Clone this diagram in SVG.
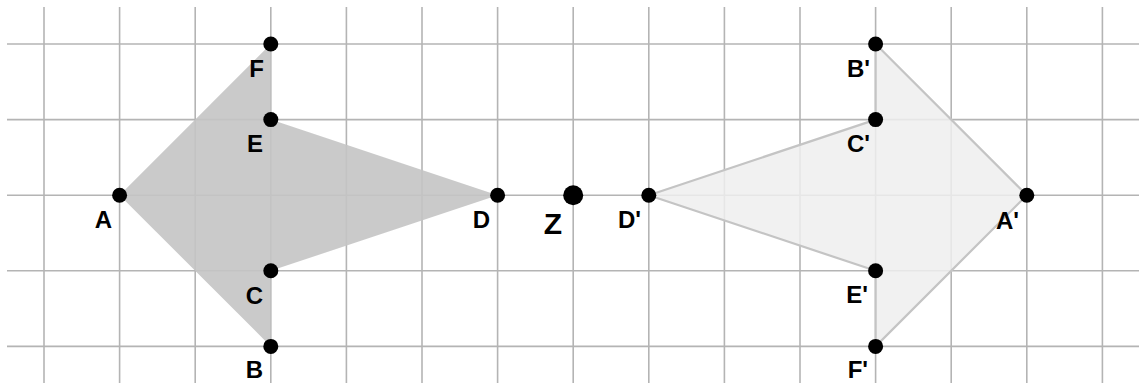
<svg xmlns="http://www.w3.org/2000/svg" width="1141" height="383" viewBox="0 0 1141 383">
<style>
.grid line{stroke:#b4b4b4;stroke-width:1.6}
.lbl{font-family:"Liberation Sans",Arial,sans-serif;font-weight:bold;font-size:24px;fill:#000;text-anchor:end}
.pt{fill:#000}
</style>
<rect width="1141" height="383" fill="#fff"/>
<g class="grid" id="grid">
<line x1="44" y1="7" x2="44" y2="383"/>
<line x1="119.6" y1="7" x2="119.6" y2="383"/>
<line x1="195.2" y1="7" x2="195.2" y2="383"/>
<line x1="270.8" y1="7" x2="270.8" y2="383"/>
<line x1="346.4" y1="7" x2="346.4" y2="383"/>
<line x1="422" y1="7" x2="422" y2="383"/>
<line x1="497.6" y1="7" x2="497.6" y2="383"/>
<line x1="573.2" y1="7" x2="573.2" y2="383"/>
<line x1="648.8" y1="7" x2="648.8" y2="383"/>
<line x1="724.4" y1="7" x2="724.4" y2="383"/>
<line x1="800" y1="7" x2="800" y2="383"/>
<line x1="875.6" y1="7" x2="875.6" y2="383"/>
<line x1="951.2" y1="7" x2="951.2" y2="383"/>
<line x1="1026.8" y1="7" x2="1026.8" y2="383"/>
<line x1="1102.4" y1="7" x2="1102.4" y2="383"/>
<line x1="7" y1="44" x2="1139" y2="44"/>
<line x1="7" y1="119.6" x2="1139" y2="119.6"/>
<line x1="7" y1="195.2" x2="1139" y2="195.2"/>
<line x1="7" y1="270.8" x2="1139" y2="270.8"/>
<line x1="7" y1="346.4" x2="1139" y2="346.4"/>
</g>
<g id="original">
<polygon points="119.6,195.2 270.8,44 270.8,119.6 497.6,195.2 270.8,270.8 270.8,346.4" fill="#c4c4c4" fill-opacity="0.9"/>
</g>
<g id="image">
<polygon points="875.6,44 1026.8,195.2 875.6,346.4 875.6,270.8 648.8,195.2 875.6,119.6" fill="#eeeeee" fill-opacity="0.85" stroke="#c4c4c4" stroke-width="2.2" stroke-linejoin="round"/>
</g>
<g id="points">
<g id="A"><circle class="pt" cx="119.6" cy="195.2" r="7.5"/><text class="lbl" x="112" y="228">A</text></g>
<g id="B"><circle class="pt" cx="270.8" cy="346.4" r="7.5"/><text class="lbl" x="263" y="378">B</text></g>
<g id="C"><circle class="pt" cx="270.8" cy="270.8" r="7.5"/><text class="lbl" x="263" y="304">C</text></g>
<g id="D"><circle class="pt" cx="497.6" cy="195.2" r="7.5"/><text class="lbl" x="490" y="228">D</text></g>
<g id="E"><circle class="pt" cx="270.8" cy="119.6" r="7.5"/><text class="lbl" x="263" y="152">E</text></g>
<g id="F"><circle class="pt" cx="270.8" cy="44" r="7.5"/><text class="lbl" x="264" y="77">F</text></g>
<g id="Z"><circle class="pt" cx="573.2" cy="195.2" r="10"/><text class="lbl" x="553" y="234" style="text-anchor:middle;font-size:30px">Z</text></g>
<g id="A1"><circle class="pt" cx="1026.8" cy="195.2" r="7.5"/><text class="lbl" x="1019" y="229">A'</text></g>
<g id="B1"><circle class="pt" cx="875.6" cy="44" r="7.5"/><text class="lbl" x="870" y="77">B'</text></g>
<g id="C1"><circle class="pt" cx="875.6" cy="119.6" r="7.5"/><text class="lbl" x="870" y="152">C'</text></g>
<g id="D1"><circle class="pt" cx="648.8" cy="195.2" r="7.5"/><text class="lbl" x="641" y="228">D'</text></g>
<g id="E1"><circle class="pt" cx="875.6" cy="270.8" r="7.5"/><text class="lbl" x="868" y="303">E'</text></g>
<g id="F1"><circle class="pt" cx="875.6" cy="346.4" r="7.5"/><text class="lbl" x="868" y="378">F'</text></g>
</g>
</svg>
